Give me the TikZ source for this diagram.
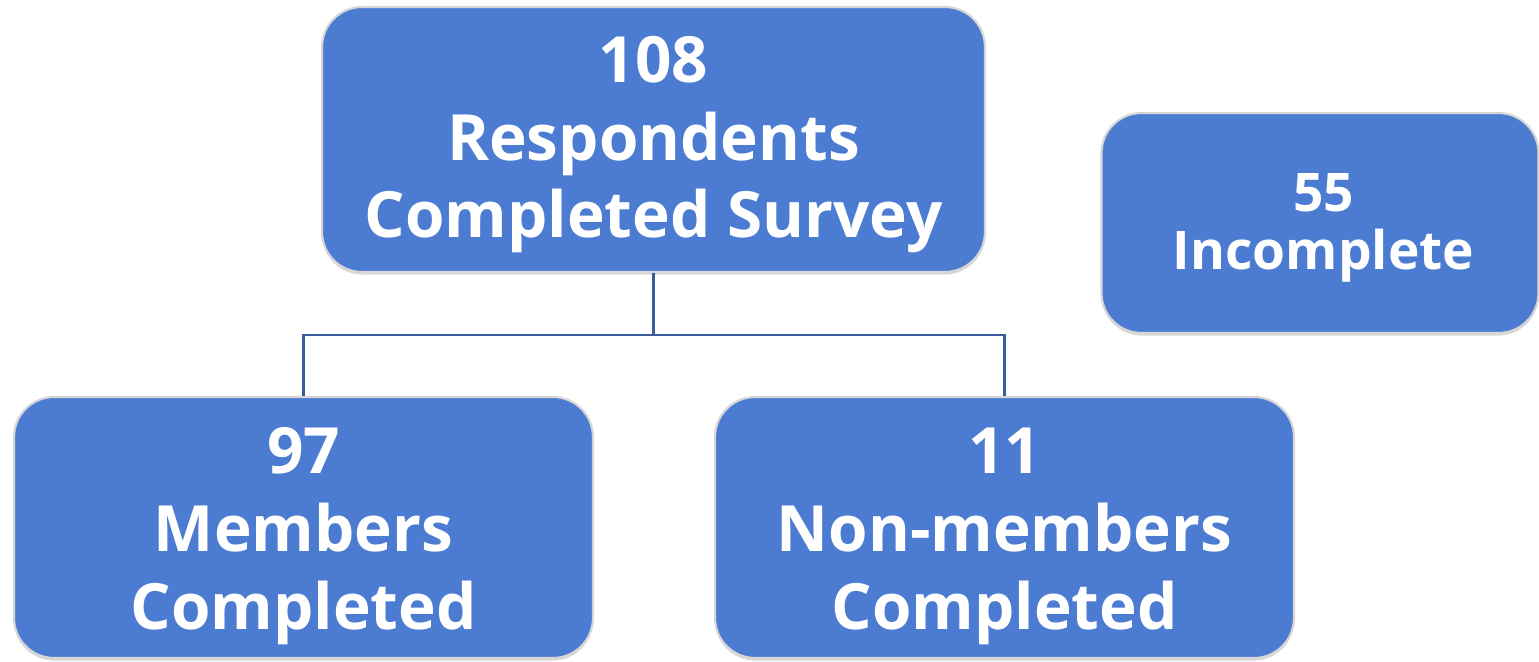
\documentclass[tikz,border=0pt]{standalone}
\usepackage{fontspec}
\setmainfont{Open Sans}
\usetikzlibrary{shadows}
\definecolor{boxblue}{HTML}{4C7CD1}
\definecolor{linkblue}{HTML}{3A5D9E}
\definecolor{rim}{HTML}{D6D6D6}
\begin{document}
\begin{tikzpicture}[x=0.02cm,y=-0.02cm,
  box/.style={draw=rim, line width=1.2pt, fill=boxblue, rounded corners=0.8cm,
    inner sep=0pt, drop shadow={opacity=0.3, shadow xshift=0pt, shadow yshift=-1.5pt}},
  txt/.style={inner sep=0pt, align=center, text=white,
    font=\bfseries\fontsize{36.3}{44.2}\selectfont},
  link/.style={draw=linkblue, line width=1.6pt}]
\useasboundingbox (0,0) rectangle (1539,662);
\node[box, minimum width=13.26cm, minimum height=5.3cm] (top) at (653.5,139.5) {};
\node[txt] (toptxt) at ([yshift=-3pt]top.center) {108\\Respondents\\Completed Survey};
\node[box, minimum width=8.74cm, minimum height=4.4cm] (inc) at (1320,223) {};
\node[txt, font=\bfseries\fontsize{30.3}{33}\selectfont] (inctxt) at ([xshift=2pt,yshift=-3pt]inc.center) {55\\Incomplete};
\node[box, minimum width=11.58cm, minimum height=5.22cm] (mem) at (303.5,527.5) {};
\node[txt] (memtxt) at ([yshift=-5pt]mem.center) {97\\Members\\Completed};
\node[box, minimum width=11.58cm, minimum height=5.22cm] (non) at (1004.5,527.5) {};
\node[txt] (nontxt) at ([yshift=-5pt]non.center) {11\\Non-members\\Completed};
\coordinate (j) at (653.5,335);
\draw[link] (top.south) -- (j);
\draw[link] (j) -| (mem.north);
\draw[link] (j) -| (non.north);
\end{tikzpicture}
\end{document}
